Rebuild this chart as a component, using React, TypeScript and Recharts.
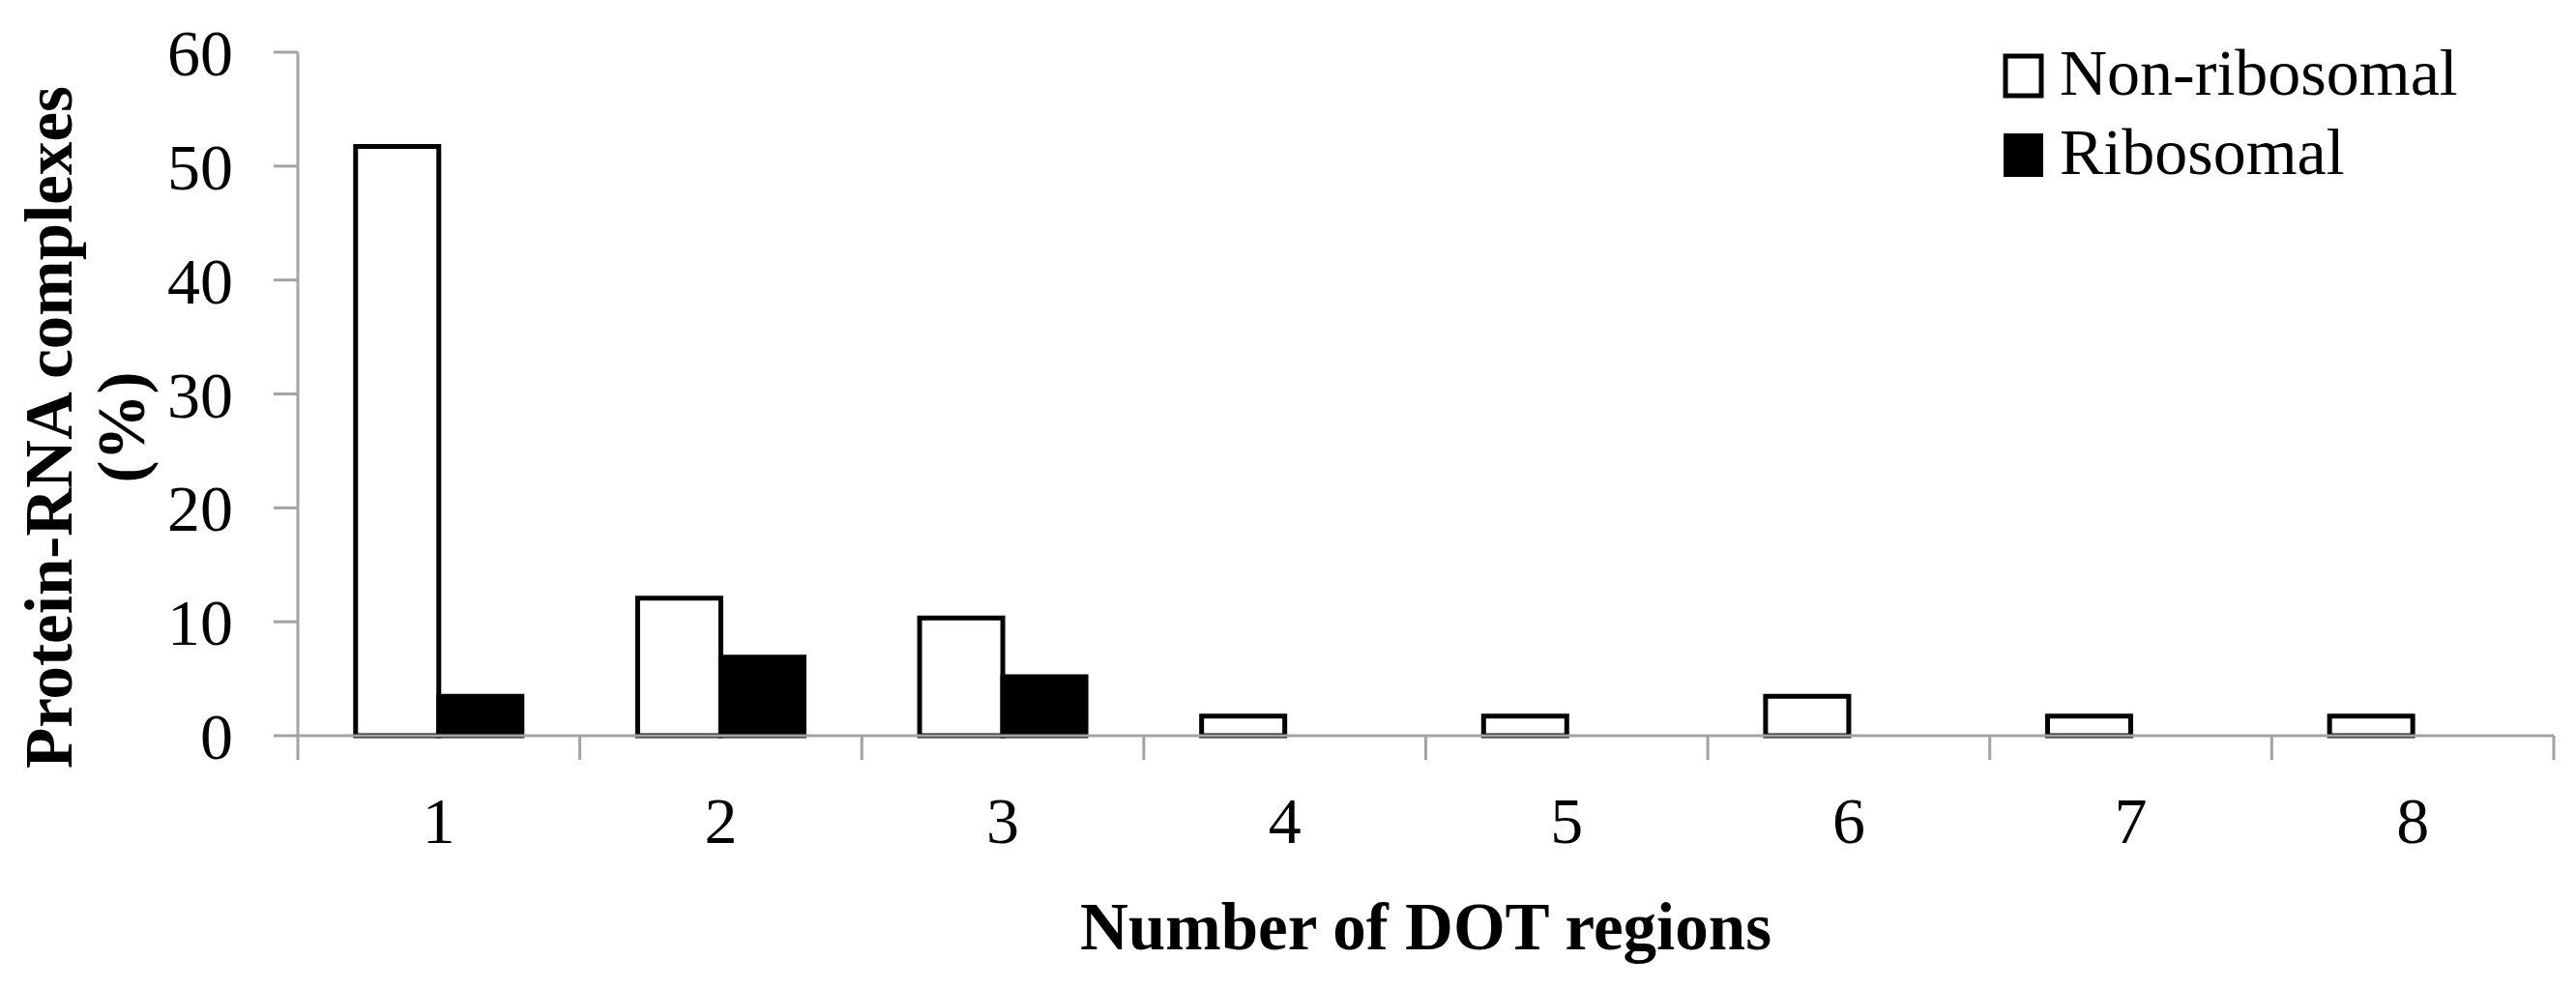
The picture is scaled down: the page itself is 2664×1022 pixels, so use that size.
import { BarChart, Bar, XAxis, YAxis, Legend, Label } from 'recharts';

// Number of DOT regions per complex, % of protein-RNA complexes
const regions = ['1', '2', '3', '4', '5', '6', '7', '8'];
const nonRibosomal = [51.72, 12.07, 10.34, 1.72, 1.72, 3.45, 1.72, 1.72];
const ribosomal = [3.45, 6.9, 5.17, 0, 0, 0, 0, 0];
const yTicks = [0, 10, 20, 30, 40, 50, 60];
const seriesNames = ['Non-ribosomal', 'Ribosomal'];

const data = regions.map((r, i) => ({
  region: r,
  pos: i + 1,
  nonRibosomal: nonRibosomal[i],
  ribosomal: ribosomal[i],
}));

// frame axis: boundary ticks at half positions, labels at category centres
const frameTicks = regions.flatMap((_, i) => [i + 0.5, i + 1]).concat(regions.length + 0.5);

const FONT = '"Liberation Serif", "Times New Roman", serif';
const AXIS = '#a3a3a3';

function FrameTick(props: any) {
  const { x, y, payload } = props;
  const v = payload.value;
  if (Number.isInteger(v)) {
    return (
      <text x={x} y={y} dy={86} textAnchor="middle" fontFamily={FONT} fontSize={68} fill="#000">
        {regions[v - 1]}
      </text>
    );
  }
  return <line x1={x} x2={x} y1={y - 25} y2={y} stroke={AXIS} strokeWidth={3} />;
}

function LegendBox() {
  return (
    <svg width={600} height={200} style={{ display: 'block' }}>
      <rect x={14} y={22} width={37} height={41} fill="#fff" stroke="#000" strokeWidth={5} />
      <text x={70} y={62} fontFamily={FONT} fontSize={68} fill="#000">{seriesNames[0]}</text>
      <rect x={12} y={102} width={41} height={45} fill="#000" />
      <text x={70} y={144} fontFamily={FONT} fontSize={68} fill="#000">{seriesNames[1]}</text>
    </svg>
  );
}

export default function App() {
  return (
    <div style={{ position: 'absolute', left: 0, top: 0, background: '#fff' }}>
      <BarChart
        width={2664}
        height={1022}
        data={data}
        margin={{ top: 54, right: 23, left: 0, bottom: 0 }}
        barCategoryGap="20.5%"
        barGap={0}
      >
        <XAxis
          dataKey="pos"
          xAxisId="frame"
          type="number"
          domain={[0.5, regions.length + 0.5]}
          ticks={frameTicks}
          interval={0}
          height={261}
          tickSize={25}
          tickMargin={0}
          tickLine={false}
          axisLine={{ stroke: AXIS, strokeWidth: 3 }}
          tick={<FrameTick />}
        >
          <Label
            content={(p: any) => (
              <text
                x={p.viewBox.x + p.viewBox.width / 2}
                y={982}
                textAnchor="middle"
                fontFamily={FONT}
                fontWeight="bold"
                fontSize={69}
                fill="#000"
              >
                Number of DOT regions
              </text>
            )}
          />
        </XAxis>
        <XAxis dataKey="region" xAxisId="cat" hide height={0} />
        <YAxis
          width={308}
          domain={[0, 60]}
          ticks={yTicks}
          interval={0}
          tickSize={25}
          tickMargin={42}
          axisLine={{ stroke: AXIS, strokeWidth: 3 }}
          tickLine={{ stroke: AXIS, strokeWidth: 3 }}
          tick={{ fontFamily: FONT, fontSize: 68, fill: '#000' }}
        >
          <Label
            content={() => (
              <text
                transform="translate(74, 442) rotate(-90)"
                textAnchor="middle"
                fontFamily={FONT}
                fontWeight="bold"
                fontSize={69}
                fill="#000"
              >
                <tspan x={0} y={0}>Protein-RNA complexes</tspan>
                <tspan x={0} y={75}>(%)</tspan>
              </text>
            )}
          />
        </YAxis>
        <Legend
          layout="vertical"
          align="center"
          verticalAlign="middle"
          wrapperStyle={{ left: 2060, top: 36, width: 600, height: 200 }}
          content={<LegendBox />}
        />
        <Bar
          xAxisId="cat"
          dataKey="nonRibosomal"
          name={seriesNames[0]}
          fill="#fff"
          stroke="#000"
          strokeWidth={5}
          isAnimationActive={false}
        />
        <Bar
          xAxisId="cat"
          dataKey="ribosomal"
          name={seriesNames[1]}
          fill="#000"
          stroke="#000"
          strokeWidth={5}
          isAnimationActive={false}
        />
      </BarChart>
    </div>
  );
}
